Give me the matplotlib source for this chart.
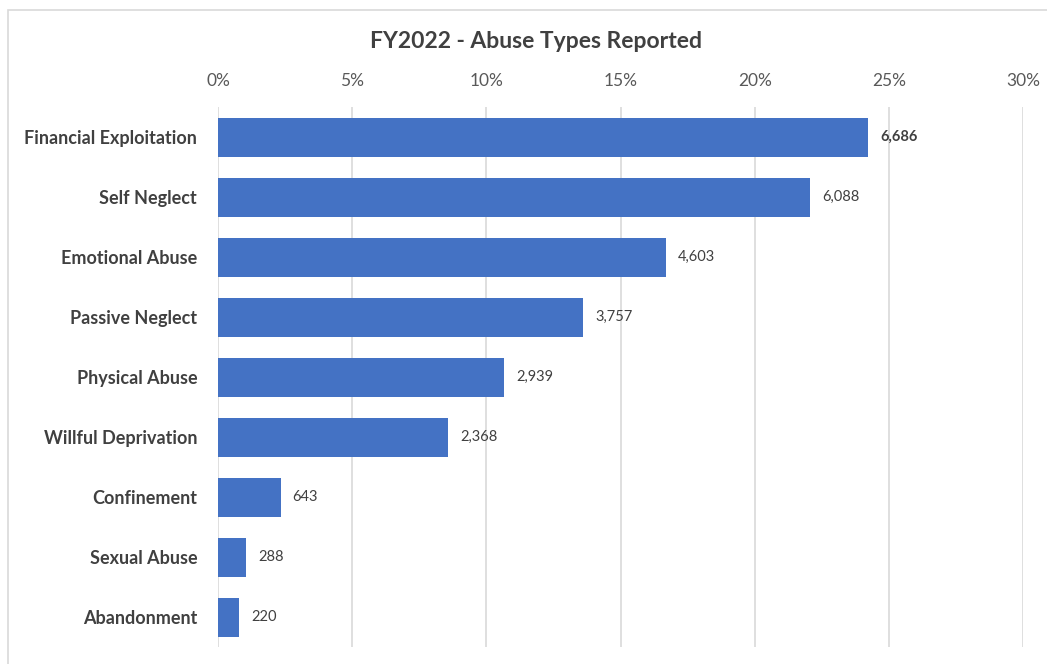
import matplotlib.pyplot as plt
import matplotlib.ticker as ticker
from matplotlib.patches import Rectangle

categories = ['Financial Exploitation', 'Self Neglect', 'Emotional Abuse',
              'Passive Neglect', 'Physical Abuse', 'Willful Deprivation',
              'Confinement', 'Sexual Abuse', 'Abandonment']
counts = [6686, 6088, 4603, 3757, 2939, 2368, 643, 288, 220]
x_ticks = [0, 5, 10, 15, 20, 25, 30]

total = sum(counts)
shares = [c / total * 100 for c in counts]

plt.rcParams['font.family'] = ['Lato', 'DejaVu Sans']

fig = plt.figure(figsize=(10.47, 6.64), dpi=100)
ax = fig.add_axes([218 / 1047, 1 - 647 / 664, (1023 - 218) / 1047, 540 / 664])

# outer chart frame (light gray)
fig.patches.append(Rectangle((8 / 1047, -0.05), 1.1, 1 - 10 / 664 + 0.05,
                             transform=fig.transFigure, fill=False,
                             edgecolor='#d9d9d9', linewidth=1.2))

y = list(range(len(categories)))
ax.barh(y, shares, height=0.65, color='#4472C4', zorder=3)

for i, (s, c) in enumerate(zip(shares, counts)):
    ax.text(s + 0.45, i, f'{c:,}', va='center', ha='left', fontsize=10.5,
            color='#404040', fontweight='bold' if i == 0 else 'normal')

ax.set_xlim(0, 30)
ax.set_ylim(len(categories) - 0.5, -0.5)
ax.set_xticks(x_ticks)
ax.xaxis.set_major_formatter(ticker.FuncFormatter(lambda v, p: f'{v:.0f}%'))
ax.xaxis.tick_top()
ax.tick_params(axis='x', length=0, pad=13, labelsize=12.5, labelcolor='#595959')
ax.set_yticks(y)
ax.set_yticklabels(categories, fontsize=13, fontweight='bold', color='#404040')
ax.tick_params(axis='y', length=0, pad=15)

for sp in ax.spines.values():
    sp.set_visible(False)
ax.grid(axis='x', color='#d9d9d9', linewidth=1.2, zorder=0)

fig.text(536 / 1047, 1 - 42 / 664, 'FY2022 - Abuse Types Reported', ha='center',
         va='center', fontsize=16.5, fontweight='bold', color='#404040')

plt.savefig('out.png', dpi=100)
plt.close()
